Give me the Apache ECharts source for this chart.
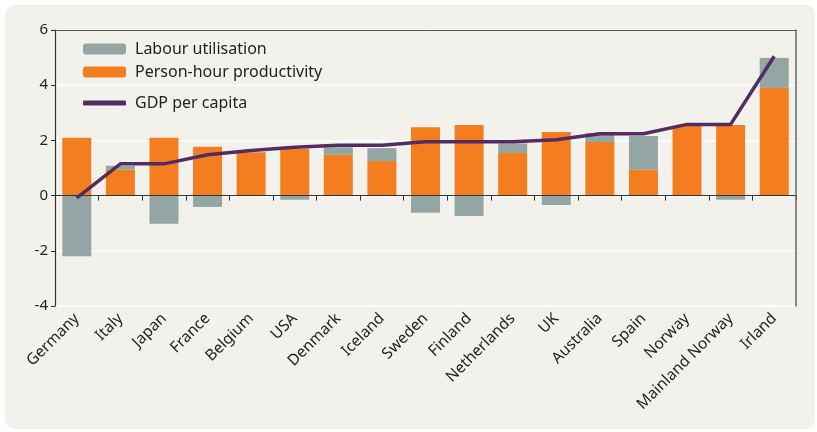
<!DOCTYPE html>
<html>
<head>
<meta charset="utf-8">
<script src="https://cdn.jsdelivr.net/npm/echarts@6/dist/echarts.min.js"></script>
<style>
  html, body { margin: 0; padding: 0; background: #ffffff; }
  #chart { width: 817px; height: 432px; }
</style>
</head>
<body>
<div id="chart"></div>
<script>
// countries along the x axis
var countries = ['Germany', 'Italy', 'Japan', 'France', 'Belgium', 'USA', 'Denmark', 'Iceland',
    'Sweden', 'Finland', 'Netherlands', 'UK', 'Australia', 'Spain', 'Norway', 'Mainland Norway', 'Irland'];

// person-hour productivity (orange)
var productivity = [2.1, 0.95, 2.1, 1.77, 1.57, 1.7, 1.48, 1.25,
    2.48, 2.56, 1.54, 2.3, 1.94, 0.94, 2.52, 2.56, 3.9];

// labour utilisation (grey)
var labour = [-2.2, 0.13, -1.02, -0.41, 0, -0.15, 0.27, 0.47,
    -0.62, -0.74, 0.35, -0.34, 0.32, 1.22, 0, -0.15, 1.09];

// GDP per capita (purple line)
var gdp = [-0.08, 1.15, 1.15, 1.48, 1.63, 1.75, 1.82, 1.82,
    1.95, 1.95, 1.95, 2.02, 2.24, 2.24, 2.58, 2.58, 5.05];

var yTicks = [-4, -2, 0, 2, 4, 6];

var fontFam = '"Noto Sans", "DejaVu Sans", sans-serif';

var chart = echarts.init(document.getElementById('chart'));

function legendText() {
    return { fontSize: 16, color: '#222', fontFamily: fontFam, padding: [0, 0, 0, 4] };
}

var option = {
    backgroundColor: '#ffffff',
    animation: false,
    textStyle: { fontFamily: fontFam },
    graphic: [{
        type: 'rect',
        z: -10,
        silent: true,
        shape: { x: 5, y: 5, width: 810, height: 424, r: 10 },
        style: { fill: '#f2f1eb' }
    }],
    legend: [
        {
            left: 78, top: 36, orient: 'vertical',
            itemWidth: 43, itemHeight: 11,
            textStyle: legendText(),
            data: ['Labour utilisation']
        },
        {
            left: 78, top: 59, orient: 'vertical',
            itemWidth: 43, itemHeight: 11,
            textStyle: legendText(),
            data: ['Person-hour productivity']
        },
        {
            left: 78, top: 90, orient: 'vertical',
            itemWidth: 43, itemHeight: 5,
            textStyle: legendText(),
            data: [{ name: 'GDP per capita', icon: 'roundRect', itemStyle: { color: '#532d62' } }]
        }
    ],
    grid: {
        left: 55, right: 21, top: 30, bottom: 126,
        show: true,
        backgroundColor: '#f2f1eb',
        borderWidth: 0
    },
    xAxis: [
        {
            type: 'category',
            data: countries,
            boundaryGap: true,
            axisLine: { lineStyle: { color: '#333', width: 1.2 } },
            axisTick: { show: true, length: 5, inside: false, lineStyle: { color: '#333' } },
            axisLabel: {
                rotate: 45,
                interval: 0,
                margin: 10,
                fontSize: 15.5,
                color: '#222',
                fontFamily: fontFam
            },
            splitLine: { show: false }
        },
        {
            // top frame line
            type: 'category',
            data: countries,
            position: 'top',
            z: 10,
            axisLine: { show: true, onZero: false, lineStyle: { color: '#555', width: 1 } },
            axisTick: { show: false },
            axisLabel: { show: false },
            splitLine: { show: false }
        }
    ],
    yAxis: [
        {
            type: 'value',
            min: yTicks[0],
            max: yTicks[yTicks.length - 1],
            interval: 2,
            axisLine: { show: true, lineStyle: { color: '#333', width: 1.2 } },
            axisTick: { show: true, length: 4, lineStyle: { color: '#333' } },
            axisLabel: { fontSize: 15, color: '#222', margin: 7, fontFamily: fontFam },
            splitLine: { show: true, lineStyle: { color: '#ffffff', width: 1.5 } }
        },
        {
            // right frame line
            type: 'value',
            position: 'right',
            min: yTicks[0],
            max: yTicks[yTicks.length - 1],
            interval: 2,
            z: 10,
            axisLine: { show: true, onZero: false, lineStyle: { color: '#666', width: 1.5 } },
            axisTick: { show: false },
            axisLabel: { show: false },
            splitLine: { show: false }
        }
    ],
    series: [
        {
            name: 'Person-hour productivity',
            type: 'bar',
            stack: 'gdp',
            barWidth: 29,
            itemStyle: { color: '#f47d20' },
            data: productivity,
            markLine: {
                silent: true,
                symbol: 'none',
                label: { show: false },
                lineStyle: { color: '#333', width: 1, type: 'solid' },
                data: [{ yAxis: 0 }]
            }
        },
        {
            name: 'Labour utilisation',
            type: 'bar',
            stack: 'gdp',
            barWidth: 29,
            itemStyle: { color: '#94a6a3' },
            data: labour
        },
        {
            name: 'GDP per capita',
            type: 'line',
            symbol: 'none',
            z: 5,
            lineStyle: { color: '#532d62', width: 3.5 },
            itemStyle: { color: '#532d62' },
            data: gdp
        }
    ]
};

chart.setOption(option);
</script>
</body>
</html>
